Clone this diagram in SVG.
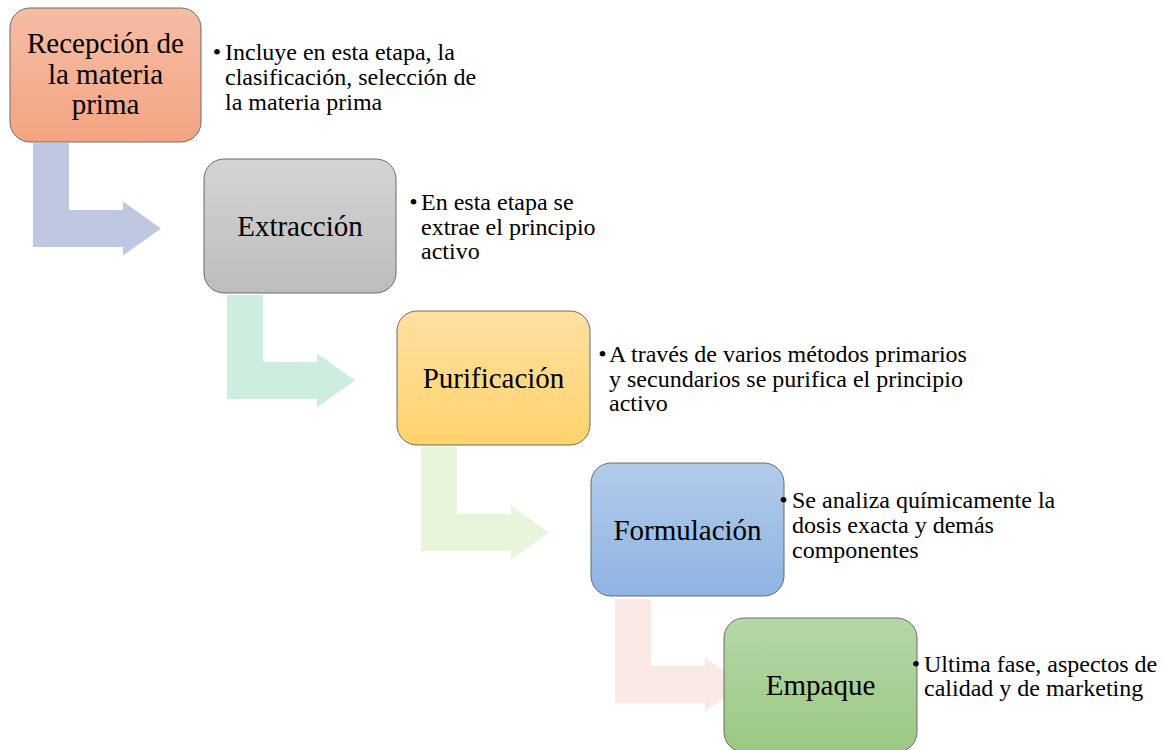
<svg xmlns="http://www.w3.org/2000/svg" width="1164" height="750" viewBox="0 0 1164 750">
  <defs>
    <linearGradient id="g1" x1="0" y1="0" x2="0" y2="1"><stop offset="0" stop-color="#F6BDA5"/><stop offset="1" stop-color="#F4A482"/></linearGradient>
    <linearGradient id="g2" x1="0" y1="0" x2="0" y2="1"><stop offset="0" stop-color="#D4D4D4"/><stop offset="1" stop-color="#BDBDBD"/></linearGradient>
    <linearGradient id="g3" x1="0" y1="0" x2="0" y2="1"><stop offset="0" stop-color="#FFE0A2"/><stop offset="1" stop-color="#FFD36C"/></linearGradient>
    <linearGradient id="g4" x1="0" y1="0" x2="0" y2="1"><stop offset="0" stop-color="#B2CBEA"/><stop offset="1" stop-color="#8EB4E2"/></linearGradient>
    <linearGradient id="g5" x1="0" y1="0" x2="0" y2="1"><stop offset="0" stop-color="#B6D7A8"/><stop offset="1" stop-color="#9BC882"/></linearGradient>
    <path id="bent" d="M33,143 H69 V210 H123 V201.5 L161,228.5 L123,255.5 V247 H33 Z"/>
  </defs>
  <style>
    .box { stroke: #6b6b6b; stroke-width: 1; }
    .lbl { font-family: "Liberation Serif", "Times New Roman", serif; font-size: 29px; fill: #000; text-anchor: middle; }
    .txt { font-family: "Liberation Serif", "Times New Roman", serif; font-size: 24px; fill: #000; }
    .bul { font-family: "Liberation Serif", "Times New Roman", serif; font-size: 24px; fill: #000; text-anchor: middle; }
  </style>

  <g id="connectors">
    <use href="#bent" fill="#BEC8E3"/>
    <use href="#bent" fill="#CDEDDF" transform="translate(194,152)"/>
    <use href="#bent" fill="#E8F5DB" transform="translate(388,304)"/>
    <use href="#bent" fill="#FBE9E6" transform="translate(582,456)"/>
  </g>

  <g id="node-recepcion">
    <rect class="box" x="10" y="8" width="191" height="134" rx="20" fill="url(#g1)"/>
    <text class="lbl" x="105.5" y="53">Recepción de</text>
    <text class="lbl" x="105.5" y="83.5">la materia</text>
    <text class="lbl" x="105.5" y="114">prima</text>
    <text class="bul" x="217" y="60">•</text>
    <text class="txt" x="225" y="60">Incluye en esta etapa, la</text>
    <text class="txt" x="225" y="85">clasificación, selección de</text>
    <text class="txt" x="225" y="110">la materia prima</text>
  </g>

  <g id="node-extraccion">
    <rect class="box" x="204" y="159" width="192" height="134" rx="20" fill="url(#g2)"/>
    <text class="lbl" x="300" y="236">Extracción</text>
    <text class="bul" x="413.5" y="210">•</text>
    <text class="txt" x="421" y="210">En esta etapa se</text>
    <text class="txt" x="421" y="234.5">extrae el principio</text>
    <text class="txt" x="421" y="259">activo</text>
  </g>

  <g id="node-purificacion">
    <rect class="box" x="397" y="311" width="193" height="134" rx="20" fill="url(#g3)"/>
    <text class="lbl" x="493.5" y="387.5">Purificación</text>
    <text class="bul" x="602.5" y="362">•</text>
    <text class="txt" x="609" y="362">A través de varios métodos primarios</text>
    <text class="txt" x="609" y="387">y secundarios se purifica el principio</text>
    <text class="txt" x="609" y="411">activo</text>
  </g>

  <g id="node-formulacion">
    <rect class="box" x="591" y="463" width="193" height="133" rx="20" fill="url(#g4)"/>
    <text class="lbl" x="687.5" y="539.5">Formulación</text>
    <text class="bul" x="783.5" y="508">•</text>
    <text class="txt" x="792" y="508">Se analiza químicamente la</text>
    <text class="txt" x="792" y="533">dosis exacta y demás</text>
    <text class="txt" x="792" y="558">componentes</text>
  </g>

  <g id="node-empaque">
    <rect class="box" x="724" y="618" width="193" height="134" rx="20" fill="url(#g5)"/>
    <text class="lbl" x="820.5" y="695">Empaque</text>
    <text class="bul" x="916" y="672">•</text>
    <text class="txt" x="924" y="672">Ultima fase, aspectos de</text>
    <text class="txt" x="924" y="696">calidad y de marketing</text>
  </g>
</svg>
